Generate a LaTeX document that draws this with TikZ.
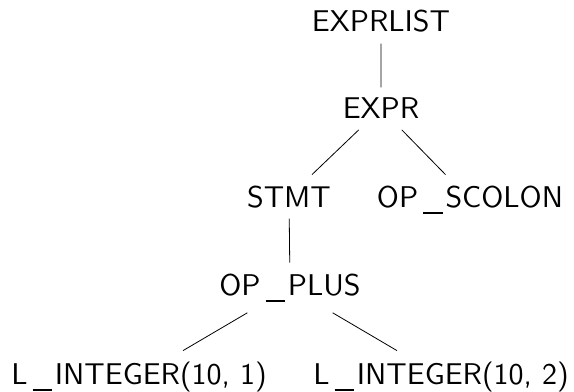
\documentclass[tikz,border=0pt]{standalone}
\usepackage{tikz}

% lowered underscore between token name parts
\newcommand{\usc}{\kern0.17em\rule[-0.23em]{0.64em}{0.05em}\kern0.1em}

\begin{document}
\begin{tikzpicture}[x=0.75pt, y=-0.75pt, line width=0.6pt, every node/.style={anchor=base, scale=2.25, font=\sffamily}]
\useasboundingbox (0,0) rectangle (574,392);
\node (exprlist) at (381,32) {EXPRLIST};
\node (expr) at (381,119) {EXPR};
\node (stmt) at (289,207) {STMT};
\node (scolon) at (470,207) {OP\usc SCOLON};
\node (plus) at (290,295) {OP\usc PLUS};
\node (int1) at (139,384) {L\usc INTEGER(10, 1)};
\node (int2) at (441,384) {L\usc INTEGER(10, 2)};
\draw (exprlist) -- (expr);
\draw (expr) -- (stmt);
\draw (expr) -- (scolon);
\draw (stmt) -- (plus);
\draw (plus) -- (int1);
\draw (plus) -- (int2);
\end{tikzpicture}
\end{document}
